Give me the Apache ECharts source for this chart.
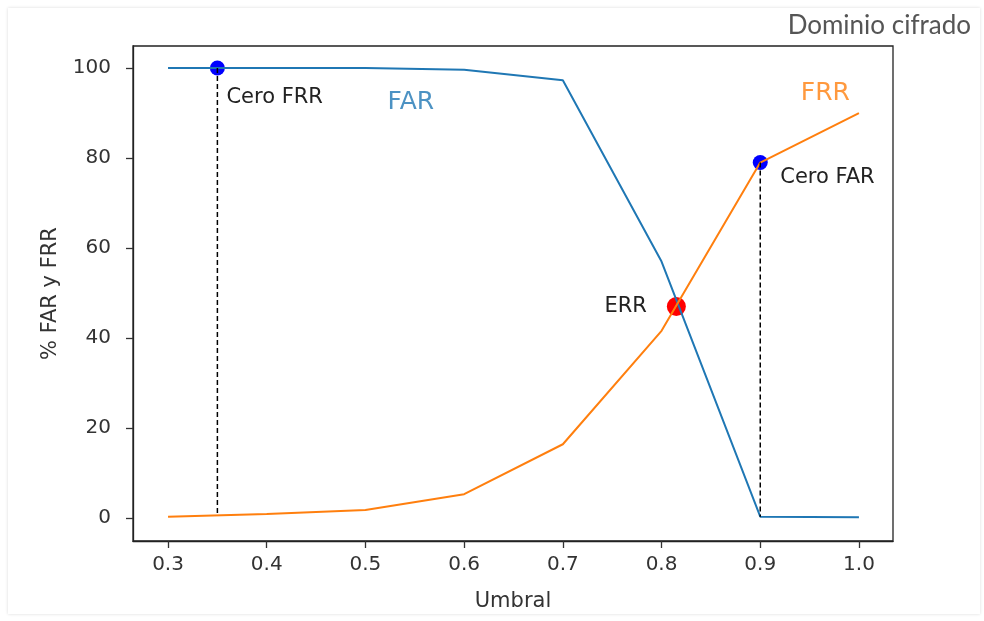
<!DOCTYPE html>
<html>
<head>
<meta charset="utf-8">
<script src="https://cdn.jsdelivr.net/npm/echarts@6/dist/echarts.min.js"></script>
<style>
  html, body { margin: 0; padding: 0; background: #fff; }
  #frame { position: absolute; left: 8px; top: 8px; width: 972px; height: 606px; box-shadow: 0 0 3px rgba(0,0,0,0.15); }
  #chart { width: 984px; height: 621px; position: absolute; left: 0; top: 0; }
</style>
</head>
<body>
<div id="frame"></div>
<div id="chart"></div>
<script>
// umbral en el eje x
const umbral = [0.3, 0.4, 0.5, 0.6, 0.7, 0.8, 0.9, 1.0];
const far = [100, 100, 100, 99.6, 97.3, 57, 0.3, 0.2];
const frr = [0.3, 0.9, 1.8, 5.3, 16.4, 41.6, 79, 90];
const xTicks = [0.3, 0.4, 0.5, 0.6, 0.7, 0.8, 0.9, 1.0];
const yTicks = [0, 20, 40, 60, 80, 100];

// puntos destacados
const ceroFRR = [0.35, 100];
const ceroFAR = [0.9, 79];
const err = [0.815, 47];
const ceroFRRLine = [[0.35, 100], [0.35, 1]];
const ceroFARLine = [[0.9, 79], [0.9, 0.3]];
const farLabel = [0.546, 92.3];
const frrLabel = [0.966, 94.3];

const font = 'DejaVu Sans';
const chart = echarts.init(document.getElementById('chart'));

const pair = (xs, ys) => xs.map((x, i) => [x, ys[i]]);

chart.setOption({
  animation: false,
  graphic: [{
    type: 'text', right: 13, top: 13,
    style: { text: 'Dominio cifrado', font: '26px Lato', fill: '#555' }
  }],
  grid: { left: 133, top: 46, width: 760, height: 495, show: true, borderColor: '#222', borderWidth: 1.3 },
  xAxis: {
    type: 'value', min: 0.2645, max: 1.0345,
    name: 'Umbral', nameLocation: 'middle', nameGap: 50,
    nameTextStyle: { fontFamily: font, fontSize: 21, color: '#333' },
    axisLine: { show: true, onZero: false, lineStyle: { color: '#222', width: 1.3 } },
    splitLine: { show: false },
    axisTick: { show: true, length: 7, lineStyle: { color: '#333', width: 1.3 }, customValues: xTicks },
    axisLabel: { fontFamily: font, fontSize: 20, color: '#333', margin: 14, customValues: xTicks, formatter: v => v.toFixed(1) }
  },
  yAxis: {
    type: 'value', min: -5.1, max: 104.9,
    name: '% FAR y FRR', nameLocation: 'middle', nameGap: 72, nameRotate: 90,
    nameTextStyle: { fontFamily: font, fontSize: 21, color: '#333' },
    axisLine: { show: true, onZero: false, lineStyle: { color: '#222', width: 1.3 } },
    splitLine: { show: false },
    axisTick: { show: true, length: 7, lineStyle: { color: '#333', width: 1.3 }, customValues: yTicks },
    axisLabel: { fontFamily: font, fontSize: 20, color: '#333', margin: 22, customValues: yTicks }
  },
  series: [
    {
      type: 'line', data: pair(umbral, far), symbol: 'none',
      lineStyle: { color: '#1f77b4', width: 2 }
    },
    {
      type: 'line', data: pair(umbral, frr), symbol: 'none',
      lineStyle: { color: '#ff7f0e', width: 2 }
    },
    {
      type: 'line', data: ceroFRRLine, symbol: 'none',
      lineStyle: { color: '#000', width: 1.5, type: [5, 3] }
    },
    {
      type: 'line', data: ceroFARLine, symbol: 'none',
      lineStyle: { color: '#000', width: 1.5, type: [5, 3] }
    },
    {
      type: 'scatter', symbolSize: 15, itemStyle: { color: '#0000ff', opacity: 1 },
      data: [
        { value: ceroFRR, label: { show: true, formatter: 'Cero FRR', offset: [9, 29] } },
        { value: ceroFAR, label: { show: true, formatter: 'Cero FAR', offset: [20, 15] } }
      ],
      label: { position: 'inside', align: 'left', fontFamily: font, fontSize: 21, color: '#222' }
    },
    {
      type: 'scatter', symbolSize: 19, itemStyle: { color: '#ff0000', opacity: 1 },
      data: [{ value: err }],
      label: { show: true, formatter: 'ERR', position: 'left', distance: 20, fontFamily: font, fontSize: 21, color: '#222' }
    },
    {
      type: 'scatter', symbolSize: 0, silent: true,
      itemStyle: { color: 'transparent' },
      label: { show: true, position: 'inside', fontFamily: font, fontSize: 25, formatter: p => p.name },
      data: [
        { name: 'FAR', value: farLabel, label: { color: '#1f77b4' } },
        { name: 'FRR', value: frrLabel, label: { color: '#ff7f0e' } }
      ]
    }
  ]
});
</script>
</body>
</html>
